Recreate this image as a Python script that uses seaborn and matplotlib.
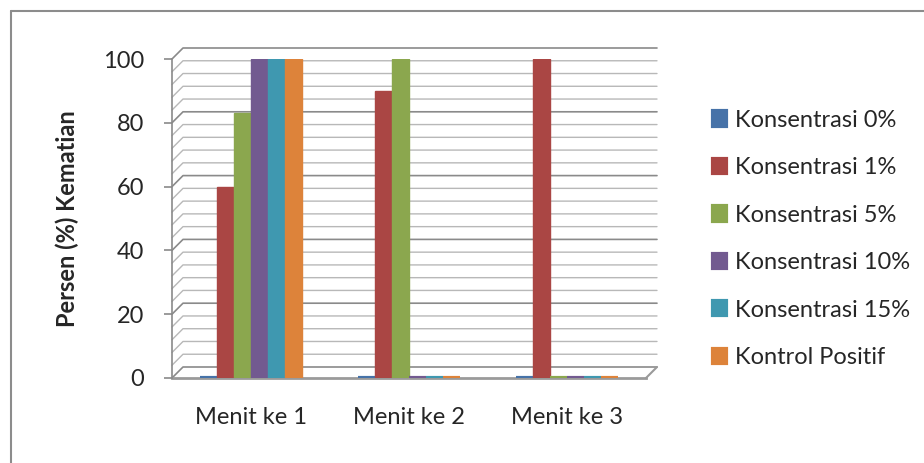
import numpy as np
import pandas as pd
import matplotlib
matplotlib.use("Agg")
import matplotlib.pyplot as plt
from matplotlib.lines import Line2D
import seaborn as sns

# ── Data ───────────────────────────────────────────────────────────────────────
CATEGORIES = ["Menit ke 1", "Menit ke 2", "Menit ke 3"]
SERIES = ["Konsentrasi 0%", "Konsentrasi 1%", "Konsentrasi 5%",
          "Konsentrasi 10%", "Konsentrasi 15%", "Kontrol Positif"]
KONS_0 = [0, 0, 0]
KONS_1 = [60, 90, 100]
KONS_5 = [83, 100, 0]
KONS_10 = [100, 0, 0]
KONS_15 = [100, 0, 0]
KONTROL = [100, 0, 0]
Y_TICKS = [0, 20, 40, 60, 80, 100]
Y_LABEL = "Persen (%) Kematian"

COLORS = ["#4672A8", "#AA4644", "#8BA74E", "#725A90", "#3F98B0", "#DD833A"]

# ── Setup ──────────────────────────────────────────────────────────────────────
sns.set_theme(style="white")
plt.rcParams["font.family"] = ["Lato", "DejaVu Sans"]
FS = 17

values = [KONS_0, KONS_1, KONS_5, KONS_10, KONS_15, KONTROL]
df = pd.DataFrame([
    {"menit": cat, "seri": s, "persen": v[i]}
    for s, v in zip(SERIES, values)
    for i, cat in enumerate(CATEGORIES)
])

W_PX, H_PX = 924, 463
fig = plt.figure(figsize=(W_PX / 100, H_PX / 100), dpi=100)
ax_l, ax_r, ax_t, ax_b = 172, 646, 59, 378
ax = fig.add_axes([ax_l / W_PX, (H_PX - ax_b) / H_PX,
                   (ax_r - ax_l) / W_PX, (ax_b - ax_t) / H_PX])

sns.barplot(data=df, x="menit", y="persen", hue="seri", hue_order=SERIES,
            palette=COLORS, width=0.65, gap=0, saturation=1, ax=ax, zorder=3)

# flat bars; zero bars still show as a thin sliver like the Excel original
for p in ax.patches:
    p.set_edgecolor(p.get_facecolor())
    p.set_linewidth(3.0 if p.get_height() == 0 else 1.0)

ax.set_xlim(-0.5, len(CATEGORIES) - 0.5)
ax.set_ylim(0, 100)

# ── pseudo 3D walls (Excel style) ─────────────────────────────────────────────
dep = 11
dxd = dep * (len(CATEGORIES)) / (ax_r - ax_l)
dyd = dep * 100 / (ax_b - ax_t)
x0, x1 = ax.get_xlim()
for v in np.arange(0, 101, 4):
    major = v % 20 == 0
    ax.plot([x0, x0 + dxd, x1 + dxd], [v, v + dyd, v + dyd],
            color="#8a8a8a" if major else "#b8b8b8",
            lw=1.2 if major else 1.0, clip_on=False, zorder=0.5)
ax.plot([x1, x1 + dxd], [0, dyd], color="#9a9a9a", lw=1.5,
        clip_on=False, zorder=0.5)

for side in ["top", "right"]:
    ax.spines[side].set_visible(False)
ax.spines["left"].set_color("#8a8a8a")
ax.spines["left"].set_linewidth(1.2)
ax.spines["bottom"].set_color("#9a9a9a")
ax.spines["bottom"].set_linewidth(2.0)
ax.spines["bottom"].set_zorder(1)

ax.set_yticks(Y_TICKS)
ax.tick_params(axis="y", length=6, width=1.2, color="#8a8a8a",
               labelsize=FS, pad=14, left=True)
ax.tick_params(axis="x", length=0, labelsize=FS, pad=21)
ax.set_xlabel("")
ax.set_ylabel(Y_LABEL, fontsize=FS, fontweight="bold", labelpad=17)

handles, labels = ax.get_legend_handles_labels()
ax.get_legend().remove()
fig.legend(handles, labels, loc="center left",
           bbox_to_anchor=(704 / W_PX, 1 - 239 / H_PX), frameon=False,
           fontsize=FS, handlelength=0.55, handleheight=0.55,
           handletextpad=0.35, labelspacing=1.12, borderaxespad=0)

# chart frame
bx, by = 11 / W_PX, 1 - 11 / H_PX
fig.add_artist(Line2D([bx, bx], [0, by], transform=fig.transFigure,
                      color="#8c8c8c", lw=1.5))
fig.add_artist(Line2D([bx, 1], [by, by], transform=fig.transFigure,
                      color="#8c8c8c", lw=1.5))

fig.savefig("out.png", dpi=100, facecolor="white")
